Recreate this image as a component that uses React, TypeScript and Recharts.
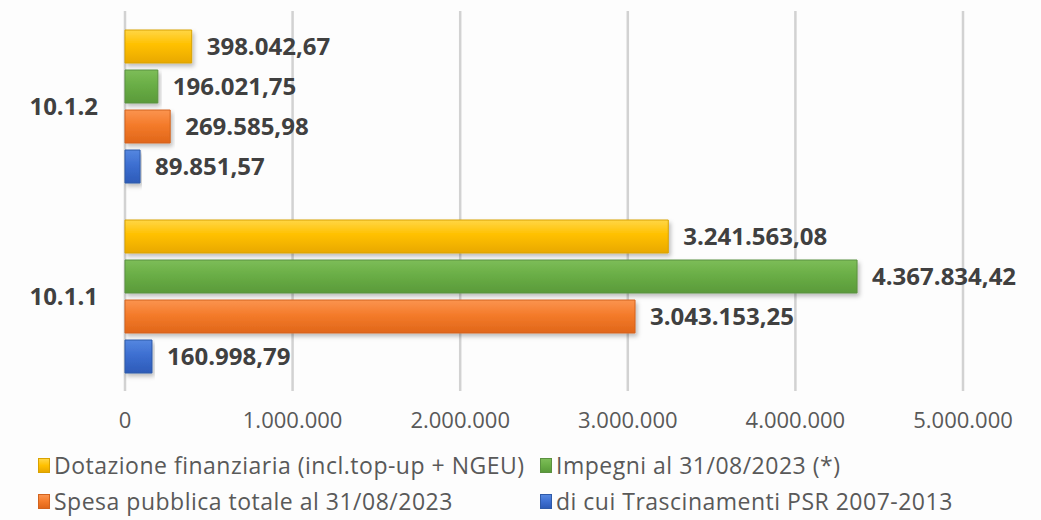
import React from "react";
import { BarChart, Bar, XAxis, YAxis, CartesianGrid, LabelList } from "recharts";

const categories = ["10.1.2", "10.1.1"];
const dotazione = [398042.67, 3241563.08];
const impegni = [196021.75, 4367834.42];
const spesa = [269585.98, 3043153.25];
const trascinamenti = [89851.57, 160998.79];
const xTicks = [0, 1000000, 2000000, 3000000, 4000000, 5000000];

const series = [
  { key: "dotazione", label: "Dotazione finanziaria (incl.top-up + NGEU)", top: "#ffd645", mid: "#ffc000", bottom: "#e8a800", stroke: "#d9a200" },
  { key: "impegni", label: "Impegni al 31/08/2023 (*)", top: "#7dbd58", mid: "#6aae46", bottom: "#5a9a3a", stroke: "#5b9140" },
  { key: "spesa", label: "Spesa pubblica totale al 31/08/2023", top: "#fb9450", mid: "#f47b2a", bottom: "#e0661a", stroke: "#d2631e" },
  { key: "trascinamenti", label: "di cui Trascinamenti PSR 2007-2013", top: "#5587e0", mid: "#3d6fd1", bottom: "#2d5bb8", stroke: "#2f5aa8" },
];

const data = categories.map((name, i) => ({
  name,
  dotazione: dotazione[i],
  impegni: impegni[i],
  spesa: spesa[i],
  trascinamenti: trascinamenti[i],
}));

// thousands with dots, decimals with comma
const fmtInt = (v: number) => String(Math.round(v)).replace(/\B(?=(\d{3})+(?!\d))/g, ".");
const fmtDec = (v: number) => {
  const [i, d] = v.toFixed(2).split(".");
  return fmtInt(Number(i)) + "," + d;
};

const labelFont = "'Open Sans', 'DejaVu Sans', sans-serif";
const thinFont = "'Open Sans', 'Liberation Sans', sans-serif";

export default function App() {
  return (
    <div style={{ position: "absolute", left: 0, top: 0, width: 1041, height: 520, background: "#fdfdfd", fontFamily: thinFont }}>
      <BarChart
        width={1041}
        height={440}
        data={data}
        layout="vertical"
        margin={{ top: 11, right: 78, bottom: 0, left: 0 }}
        barCategoryGap="10%"
        barGap={7}
        barSize={33}
      >
        <defs>
          {series.map(s => (
            <linearGradient key={s.key} id={`g-${s.key}`} x1="0" y1="0" x2="0" y2="1">
              <stop offset="0%" stopColor={s.top} />
              <stop offset="45%" stopColor={s.mid} />
              <stop offset="100%" stopColor={s.bottom} />
            </linearGradient>
          ))}
          <filter id="shadow" x="-5%" y="-20%" width="115%" height="160%">
            <feDropShadow dx="2" dy="3" stdDeviation="2" floodColor="#000" floodOpacity="0.25" />
          </filter>
        </defs>
        <CartesianGrid horizontal={false} stroke="#d2d2d2" strokeWidth={2.5} />
        <XAxis
          type="number"
          domain={[0, 5000000]}
          ticks={xTicks}
          tickFormatter={fmtInt}
          axisLine={false}
          tickLine={false}
          tickSize={0}
          tickMargin={21}
          height={49}
          tick={{ fontSize: 22, fill: "#595959", fontFamily: thinFont }}
          interval={0}
        />
        <YAxis
          type="category"
          dataKey="name"
          width={125}
          axisLine={false}
          tickLine={false}
          tickSize={0}
          tickMargin={27}
          tick={{ fontSize: 24, fill: "#404040", fontWeight: 700, fontFamily: labelFont }}
        />
        {series.map(s => (
          <Bar
            key={s.key}
            dataKey={s.key}
            name={s.label}
            fill={`url(#g-${s.key})`}
            stroke={s.stroke}
            strokeWidth={1}
            filter="url(#shadow)"
            isAnimationActive={false}
          >
            <LabelList
              dataKey={s.key}
              position="right"
              offset={15}
              formatter={(v: any) => fmtDec(Number(v))}
              style={{ fontSize: 24, fontWeight: 700, fill: "#404040", fontFamily: labelFont }}
            />
          </Bar>
        ))}
      </BarChart>
      <div style={{ position: "absolute", left: 38, top: 450, width: 1000, display: "grid", gridTemplateColumns: "502px 480px", rowGap: 6, fontSize: 23, letterSpacing: 0.5, color: "#595959", lineHeight: "30px" }}>
        {series.map(s => (
          <div key={s.key} style={{ display: "flex", alignItems: "center", whiteSpace: "nowrap" }}>
            <span style={{ display: "inline-block", width: 10, height: 13, marginRight: 4, background: `linear-gradient(${s.top}, ${s.mid}, ${s.bottom})`, border: `1px solid ${s.stroke}` }} />
            {s.label}
          </div>
        ))}
      </div>
    </div>
  );
}
